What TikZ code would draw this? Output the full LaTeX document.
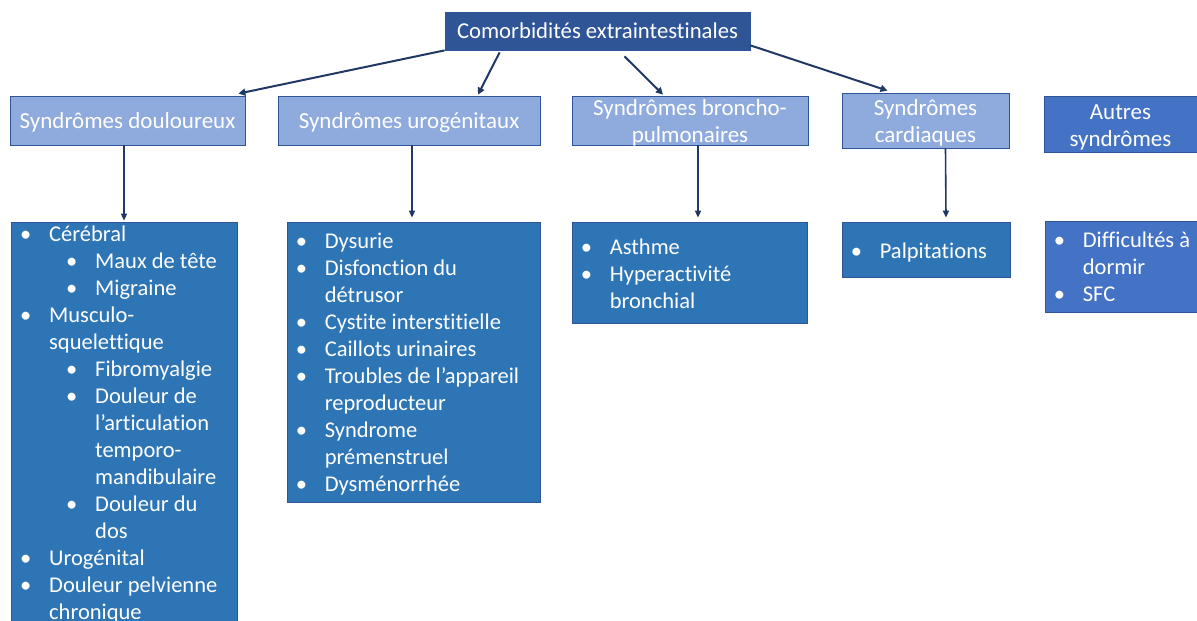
\documentclass[tikz,border=0pt]{standalone}
\usepackage{fontspec}
\setmainfont[Ligatures=NoCommon]{Carlito}
\usetikzlibrary{arrows.meta}
\definecolor{topblue}{HTML}{2F5597}
\definecolor{headblue}{HTML}{8FAADC}
\definecolor{listblue}{HTML}{2E75B6}
\definecolor{otherblue}{HTML}{4472C4}
\definecolor{edgeblue}{HTML}{2F5597}
\definecolor{arrowblue}{HTML}{203864}
\newcommand\bi[1]{\hbox{\strut\makebox[29pt][l]{•}#1}}
\newcommand\ci[1]{\hbox{\strut\hspace*{29pt}#1}}
\newcommand\sbi[1]{\hbox{\strut\hspace*{46pt}\makebox[29pt][l]{•}#1}}
\newcommand\sci[1]{\hbox{\strut\hspace*{75pt}#1}}
\newcommand\lst[1]{\vbox{\fontsize{22.5}{27}\selectfont #1}}
\tikzset{
  boxbase/.style={rectangle, inner sep=0pt, line width=0.75pt, draw=edgeblue},
  topbox/.style={boxbase, fill=topblue, text=white, font=\fontsize{22.7}{27}\selectfont},
  headbox/.style={boxbase, fill=headblue},
  otherhead/.style={boxbase, fill=otherblue},
  headtext/.style={inner sep=0pt, text=white, align=center, font=\fontsize{23}{27}\selectfont},
  listbox/.style={boxbase, fill=listblue},
  otherlist/.style={boxbase, fill=otherblue},
  listtext/.style={inner sep=0pt, anchor=west, text=white},
  conn/.style={draw=arrowblue, line width=2pt, -{Triangle[length=7pt,width=7pt]}},
  vconn/.style={draw=arrowblue, line width=1.6pt, -{Triangle[length=7pt,width=6pt]}}
}
\begin{document}
\begin{tikzpicture}[x=1pt,y=-1pt]
\clip (0,0) rectangle (1197,621);
% top
\node[topbox, minimum width=305pt, minimum height=38pt] (top) at (597.5,31) {Comorbidités extraintestinales};
% heads
\node[headbox, minimum width=235pt, minimum height=49pt] (doulh) at (127.5,120.5) {};
\node[headbox, minimum width=262pt, minimum height=49pt] (urogh) at (409,120.5) {};
\node[headbox, minimum width=236pt, minimum height=49pt] (bronh) at (690,120.5) {};
\node[headbox, minimum width=167pt, minimum height=55pt] (cardh) at (925.5,120.5) {};
\node[otherhead, minimum width=153pt, minimum height=56pt] (autrh) at (1120.5,124) {};
\node[headtext] (doulht) at ([yshift=-2pt]doulh.center) {Syndrômes douloureux};
\node[headtext] (uroght) at ([yshift=-2pt]urogh.center) {Syndrômes urogénitaux};
\node[headtext] (bronht) at ([yshift=-2.5pt]bronh.center) {Syndrômes broncho-\\pulmonaires};
\node[headtext] (cardht) at ([yshift=-2.5pt]cardh.center) {Syndrômes\\cardiaques};
\node[headtext] (autrht) at ([yshift=-3pt]autrh.center) {Autres\\syndrômes};
% lists
\node[listbox, minimum width=226pt, minimum height=410pt] (doull) at (124,427) {};
\node[listbox, minimum width=253pt, minimum height=280pt] (urogl) at (413.5,362) {};
\node[listbox, minimum width=235pt, minimum height=101pt] (bronl) at (689.5,272.5) {};
\node[listbox, minimum width=168pt, minimum height=55pt] (cardl) at (926,249.5) {};
\node[otherlist, minimum width=152pt, minimum height=91pt] (autrl) at (1121,266.5) {};
% list texts
\node[listtext] (doult) at (20,424.6) {\lst{%
\bi{Cérébral}
\sbi{Maux de tête}
\sbi{Migraine}
\bi{Musculo-}
\ci{squelettique}
\sbi{Fibromyalgie}
\sbi{Douleur de}
\sci{l’articulation}
\sci{temporo-}
\sci{mandibulaire}
\sbi{Douleur du}
\sci{dos}
\bi{Urogénital}
\bi{Douleur pelvienne}
\ci{chronique}}};
\node[listtext] (urogt) at ([xshift=9pt,yshift=-2.5pt]urogl.west) {\lst{%
\bi{Dysurie}
\bi{Disfonction du}
\ci{détrusor}
\bi{Cystite interstitielle}
\bi{Caillots urinaires}
\bi{Troubles de l’appareil}
\ci{reproducteur}
\bi{Syndrome}
\ci{prémenstruel}
\bi{Dysménorrhée}}};
\node[listtext] (bront) at ([xshift=9pt,yshift=-3.5pt]bronl.west) {\lst{%
\bi{Asthme}
\bi{Hyperactivité}
\ci{bronchial}}};
\node[listtext] (cardt) at ([xshift=9pt,yshift=-3.5pt]cardl.west) {\lst{%
\bi{Palpitations}}};
\node[listtext] (autrt) at ([xshift=9pt,yshift=-3pt]autrl.west) {\lst{%
\bi{Difficultés à}
\ci{dormir}
\bi{SFC}}};
% connectors from top
\draw[conn] (top.south west) -- ([xshift=-7pt,yshift=2pt]doulh.north east);
\draw[conn] ([xshift=55pt,yshift=-2pt]top.south west) -- ([xshift=69pt,yshift=1pt]urogh.north);
\draw[conn] ([xshift=27pt,yshift=-6pt]top.south) -- ([xshift=-27pt,yshift=1pt]bronh.north);
\draw[conn] ([yshift=5pt]top.south east) -- ([xshift=-38pt,yshift=2pt]cardh.north);
% vertical connectors
\draw[vconn] (doulh.south -| doull.north) -- ([yshift=1pt]doull.north);
\draw[vconn] ([xshift=-1.5pt]urogh.south -| urogl.north) -- ([xshift=-1.5pt,yshift=4pt]urogl.north);
\draw[vconn] ([xshift=8pt]bronh.south) -- ([xshift=8.5pt,yshift=4pt]bronl.north);
\draw[vconn] ([xshift=20pt]cardh.south) -- ([xshift=20pt,yshift=4pt]cardl.north);
\end{tikzpicture}
\end{document}
